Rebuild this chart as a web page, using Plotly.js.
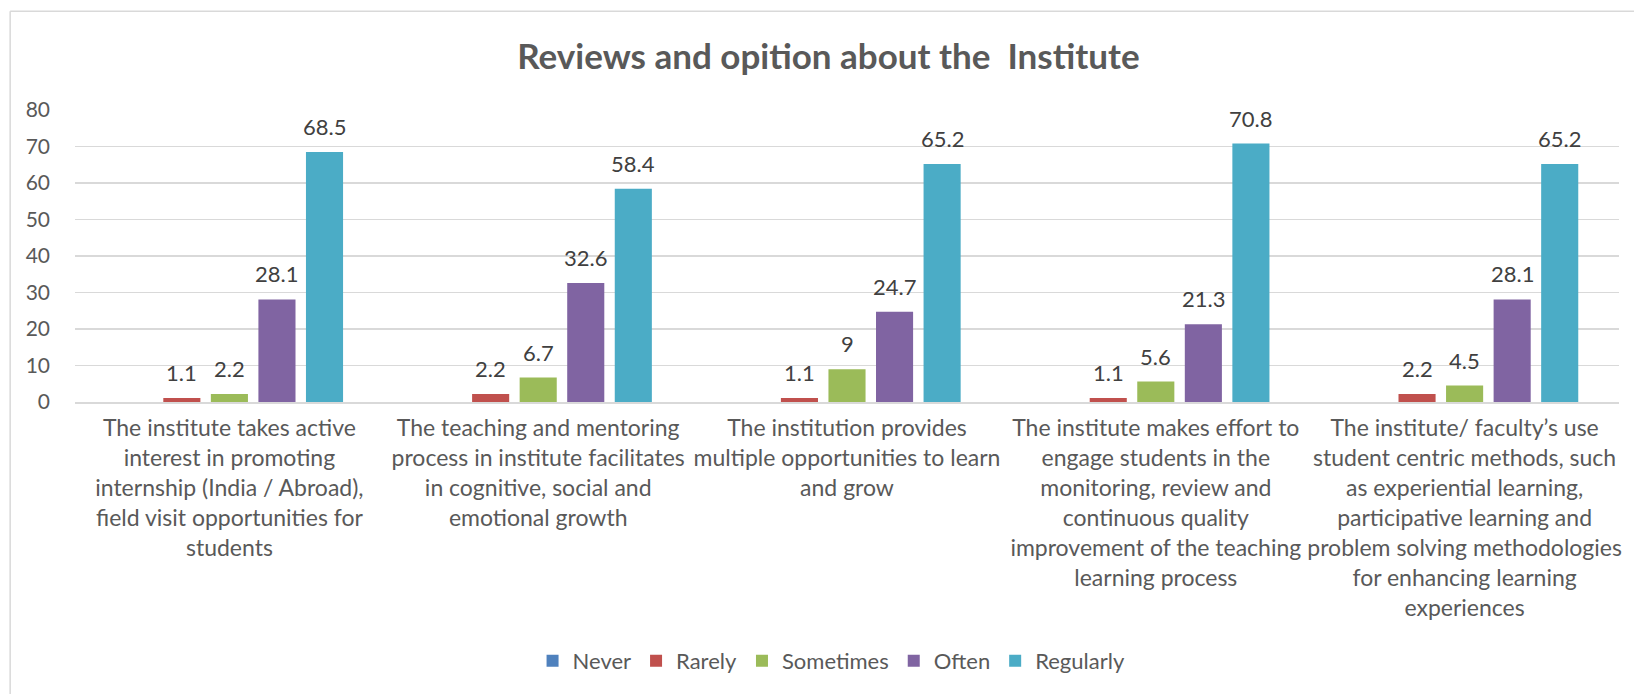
<!DOCTYPE html>
<html>
<head>
<meta charset="utf-8">
<script src="https://cdn.plot.ly/plotly-3.0.1.min.js"></script>
<style>html,body{margin:0;padding:0;background:#fff;}#chart{width:1634px;height:694px;}</style>
</head>
<body>
<div id="chart"></div>
<script>
const categories = [
  "The institute takes active<br>interest in promoting<br>internship (India / Abroad),<br>field visit opportunities for<br>students",
  "The teaching and mentoring<br>process in institute facilitates<br>in cognitive, social and<br>emotional growth",
  "The institution provides<br>multiple opportunities to learn<br>and grow",
  "The institute makes effort to<br>engage students in the<br>monitoring, review and<br>continuous quality<br>improvement of the teaching<br>learning process",
  "The institute/ faculty’s use<br>student centric methods, such<br>as experiential learning,<br>participative learning and<br>problem solving methodologies<br>for enhancing learning<br>experiences"
];
const seriesNames = ["Never", "Rarely", "Sometimes", "Often", "Regularly"];
const never = [0, 0, 0, 0, 0];
const rarely = [1.1, 2.2, 1.1, 1.1, 2.2];
const sometimes = [2.2, 6.7, 9, 5.6, 4.5];
const often = [28.1, 32.6, 24.7, 21.3, 28.1];
const regularly = [68.5, 58.4, 65.2, 70.8, 65.2];
const yTicks = [0, 10, 20, 30, 40, 50, 60, 70, 80];

const colors = ["#4F81BD", "#C0504D", "#9BBB59", "#8064A2", "#4BACC6"];
const allValues = [never, rarely, sometimes, often, regularly];
const FONT = "Lato, 'Open Sans', sans-serif";

const W = 1634, H = 694;
const margin = {l: 75, r: 15, t: 110, b: 292};
const bargap = 0.23, bargroupgap = 0.22;
const nCat = categories.length, nSer = allValues.length;
const catWidthPx = (W - margin.l - margin.r) / nCat;
const slotPx = catWidthPx * (1 - bargap) / nSer;

const traces = allValues.map((vals, i) => ({
  type: "bar",
  name: seriesNames[i],
  x: categories,
  y: vals,
  marker: {color: colors[i]},
  hoverinfo: "x+y+name"
}));

// data labels above bars (Excel style, with padding)
const annotations = [];
allValues.forEach((vals, i) => {
  vals.forEach((v, j) => {
    if (v === 0) return;
    annotations.push({
      x: categories[j], y: v, xref: "x", yref: "y",
      text: String(v), showarrow: false,
      xanchor: "center", yanchor: "bottom",
      xshift: (i - (nSer - 1) / 2) * slotPx,
      yshift: 10,
      font: {family: FONT, size: 22, color: "#404040"}
    });
  });
});

const layout = {
  width: W,
  height: H,
  paper_bgcolor: "#ffffff",
  plot_bgcolor: "#ffffff",
  margin: margin,
  title: {
    text: "<b>Reviews and opition about the  Institute</b>",
    font: {family: FONT, size: 35, color: "#595959"},
    x: 0.507, xanchor: "center",
    y: 0.918, yanchor: "middle"
  },
  barmode: "group",
  bargap: bargap,
  bargroupgap: bargroupgap,
  xaxis: {
    type: "category",
    tickfont: {family: FONT, size: 23, color: "#595959"},
    showline: true,
    linecolor: "#d9d9d9",
    linewidth: 1.5,
    ticks: "",
    ticklabelstandoff: 5,
    automargin: false
  },
  yaxis: {
    range: [0, 80],
    tickvals: yTicks,
    ticktext: yTicks.map(String),
    tickfont: {family: FONT, size: 21, color: "#595959"},
    showgrid: true,
    gridcolor: "#d9d9d9",
    gridwidth: 1.5,
    zeroline: false,
    ticks: "",
    ticklabelstandoff: 24,
    automargin: false
  },
  annotations: annotations,
  showlegend: true,
  legend: {
    orientation: "h",
    x: 0.49, xanchor: "center",
    y: -0.887, yanchor: "middle",
    font: {family: FONT, size: 22, color: "#595959"},
    itemwidth: 30,
    traceorder: "normal"
  },
  shapes: [
    {type: "line", xref: "paper", yref: "paper", x0: -0.042, x1: 1.01, y0: 1.338, y1: 1.338, line: {color: "#d9d9d9", width: 1.5}},
    {type: "line", xref: "paper", yref: "paper", x0: -0.042, x1: -0.042, y0: 1.338, y1: -1.1, line: {color: "#d9d9d9", width: 1.5}}
  ]
};

Plotly.newPlot("chart", traces, layout, {displayModeBar: false, staticPlot: true});
</script>
</body>
</html>
